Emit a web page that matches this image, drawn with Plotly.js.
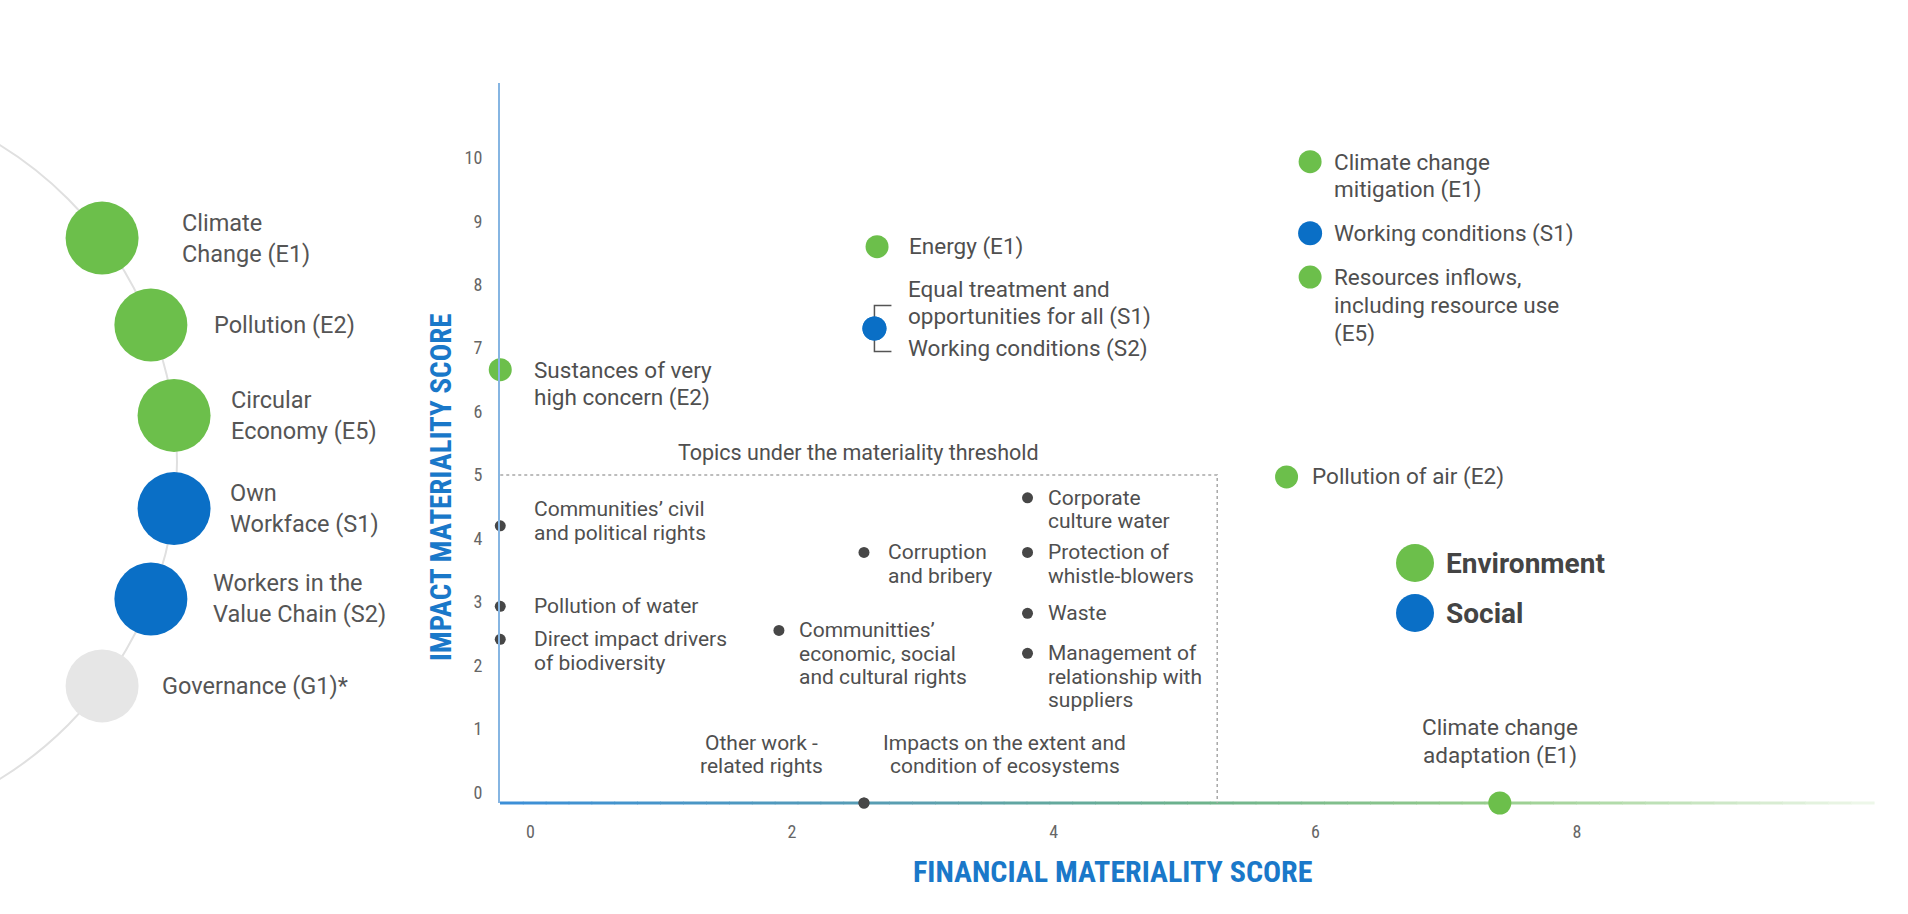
<!DOCTYPE html>
<html><head><meta charset="utf-8">
<script src="https://cdn.plot.ly/plotly-3.0.1.min.js"></script>
<style>html,body{margin:0;padding:0;background:#fff;}#chart{width:1908px;height:914px;}</style>
</head><body><div id="chart"></div>
<script>
// ---------------- data ----------------
const envLabels = ['Sustances of very<br>high concern (E2)', 'Energy (E1)', 'Climate change<br>mitigation (E1)',
  'Resources inflows,<br>including resource use<br>(E5)', 'Pollution of air (E2)', 'Climate change<br>adaptation (E1)'];
const envX = [-0.23, 2.65, 5.96, 5.96, 5.78, 7.41];
const envY = [6.66, 8.60, 9.94, 8.12, 4.97, -0.17];

const socLabels = ['Equal treatment and<br>opportunities for all (S1)', 'Working conditions (S2)', 'Working conditions (S1)'];
const socX = [2.63, 2.63, 5.96];
const socY = [7.31, 7.31, 8.81];

const topicLabels = ["Communities\u2019 civil<br>and political rights", 'Pollution of water', 'Direct impact drivers<br>of biodiversity',
  'Corruption<br>and bribery', "Communitties\u2019<br>economic, social<br>and cultural rights", 'Corporate<br>culture water',
  'Protection of<br>whistle-blowers', 'Waste', 'Management of<br>relationship with<br>suppliers',
  'Other work -<br>related rights', 'Impacts on the extent and<br>condition of ecosystems'];
const topicX = [-0.23, -0.23, -0.23, 2.55, 1.90, 3.80, 3.80, 3.80, 3.80, 2.55, 2.55];
const topicY = [4.20, 2.93, 2.41, 3.78, 2.55, 4.64, 3.78, 2.82, 2.19, -0.17, -0.17];

const thresholdX = 5.25;
const thresholdY = 5;
const thresholdLabel = 'Topics under the materiality threshold';

const xTickVals = [0, 2, 4, 6, 8];
const yTickVals = [0, 1, 2, 3, 4, 5, 6, 7, 8, 9, 10];

const pillarLabels = ['Climate<br>Change (E1)', 'Pollution (E2)', 'Circular<br>Economy (E5)', 'Own<br>Workface (S1)',
  'Workers in the<br>Value Chain (S2)', 'Governance (G1)*'];
const pillarGroups = ['E', 'E', 'E', 'S', 'S', 'G'];

const legendLabels = ['Environment', 'Social'];
const legendGroups = ['E', 'S'];

const xTitle = 'FINANCIAL MATERIALITY SCORE';
const yTitle = 'IMPACT MATERIALITY SCORE';

// ---------------- style / layout ----------------
const W = 1908, H = 914;
const GREEN = '#6cbf4b', BLUE = '#0a6fc6', DOT = '#474747', GOV = '#e6e6e6';
const groupColor = {E: GREEN, S: BLUE, G: GOV};
const TXT = '#4f4f4f';
const COND = '"Roboto Condensed", "Liberation Sans Narrow", "Arial Narrow", "DejaVu Sans Condensed", Roboto, sans-serif';
const ROBOTO = 'Roboto, "Noto Sans", sans-serif';
const FS_MAIN = 22.5, LS_MAIN = 28;   // coloured topics
const FS_SUB = 21, LS_SUB = 23.5;     // topics under threshold

const px = v => v / W;
const py = v => 1 - v / H;

// plot box in pixels
const plotL = 500, plotR = 1874, plotB = 803, plotT = 83;

// label placement (pixel offsets): [xshift, yshift, xanchor, mode]
//  mode 'top'  : first line level with the point (+dy)
//  mode 'mid'  : block centred on the point (+dy)
//  mode 'above': last line centred dy px above the point
const envPlace = [[32, 0, 'left', 'top'], [30, 0, 'left', 'mid'], [22, 0, 'left', 'top'], [22, 0, 'left', 'top'],
  [23, 0, 'left', 'mid'], [0, 48, 'center', 'above']];
const socPlace = [[32, 26, 'left', 'mid'], [32, -20, 'left', 'mid'], [22, 0, 'left', 'mid']];
const topicPlace = [[32, 5, 'left', 'mid'], [32, 0, 'left', 'mid'], [32, 0, 'left', 'top'], [22, 0, 'left', 'top'],
  [18, 0, 'left', 'top'], [18, 0, 'left', 'top'], [18, 0, 'left', 'top'], [18, 0, 'left', 'mid'], [18, 0, 'left', 'top'],
  [-102, 37, 'center', 'above'], [141, 37, 'center', 'above']];

const annotations = [];
function addLabels(labels, xs, ys, place, fs, ls) {
  labels.forEach((t, i) => {
    const [dx, dy, xa, mode] = place[i];
    const lines = t.split('<br>');
    const n = lines.length;
    lines.forEach((ln, j) => {
      let sh;
      if (mode === 'top') sh = dy - j * ls;
      else if (mode === 'mid') sh = dy + ((n - 1) / 2 - j) * ls;
      else sh = dy + (n - 1 - j) * ls;
      annotations.push({x: xs[i], y: ys[i], xref: 'x', yref: 'y', text: ln, showarrow: false,
        xshift: dx, yshift: sh, xanchor: xa, yanchor: 'middle',
        font: {family: ROBOTO, size: fs, color: TXT}});
    });
  });
}
addLabels(envLabels, envX, envY, envPlace, FS_MAIN, LS_MAIN);
addLabels(socLabels, socX, socY, socPlace, FS_MAIN, LS_MAIN);
addLabels(topicLabels, topicX, topicY, topicPlace, FS_SUB, LS_SUB);

annotations.push({x: (-0.23 + thresholdX) / 2, y: thresholdY, xref: 'x', yref: 'y', text: thresholdLabel,
  showarrow: false, yanchor: 'bottom', yshift: 8, font: {family: ROBOTO, size: 21.5, color: TXT}});

// axis titles
annotations.push({x: px(1112), y: py(891), xref: 'paper', yref: 'paper', text: '<b>' + xTitle + '</b>',
  showarrow: false, font: {family: COND, size: 30, color: '#1a78c9'}});
annotations.push({x: px(422), y: py(488), xref: 'paper', yref: 'paper', text: '<b>' + yTitle + '</b>',
  textangle: -90, showarrow: false, font: {family: COND, size: 29, color: '#1a78c9'}});

// left panel: pillars on an arc
const arcC = [-195, 462], arcR = 372;
const angles = [-37, -21.6, -7.2, 7.2, 21.6, 37];
const labelOff = [78, 61, 55, 54, 60, 58];
const pX = angles.map(a => arcC[0] + arcR * Math.cos(a * Math.PI / 180));
const pY = angles.map(a => arcC[1] + arcR * Math.sin(a * Math.PI / 180));
pillarLabels.forEach((t, i) => {
  annotations.push({x: pX[i], y: pY[i], xref: 'x2', yref: 'y2', text: t, showarrow: false,
    xanchor: 'left', yanchor: 'middle', align: 'left', xshift: labelOff[i],
    font: {family: ROBOTO, size: 23.5, color: '#555'}});
});

// legend
const legX = 1415, legY = [563, 613];
const shapes = [];
legendLabels.forEach((t, i) => {
  shapes.push({type: 'circle', xref: 'paper', yref: 'paper', xsizemode: 'pixel', ysizemode: 'pixel',
    xanchor: px(legX), yanchor: py(legY[i]), x0: -19, x1: 19, y0: -19, y1: 19,
    fillcolor: groupColor[legendGroups[i]], line: {width: 0}});
  annotations.push({x: px(legX + 29), y: py(legY[i]), xref: 'paper', yref: 'paper', text: '<b>' + t + '</b>',
    showarrow: false, xanchor: 'left', yanchor: 'middle', font: {family: ROBOTO, size: 28, color: '#444'}});
});

// arc line
shapes.push({type: 'circle', xref: 'x2', yref: 'y2', x0: arcC[0] - arcR, x1: arcC[0] + arcR,
  y0: arcC[1] - arcR, y1: arcC[1] + arcR, line: {color: '#e0e0e0', width: 2}, layer: 'below'});

// threshold box (dotted)
shapes.push({type: 'path', xref: 'x', yref: 'y',
  path: `M ${-0.23} ${thresholdY} L ${thresholdX} ${thresholdY} L ${thresholdX} ${-0.17}`,
  line: {color: '#a8a8a8', width: 1.5, dash: 'dot'}, layer: 'below'});

// bracket for shared S1/S2 point
shapes.push({type: 'path', xref: 'x', yref: 'y', xsizemode: 'pixel', ysizemode: 'pixel',
  xanchor: socX[0], yanchor: socY[0], path: 'M 17 23 L 0 23 L 0 -23 L 17 -23',
  line: {color: '#555', width: 1.5}, layer: 'below'});

// gradient x axis line
const stops = [[0, [59, 143, 216]], [0.3, [90, 158, 176]], [0.5, [108, 178, 140]], [0.72, [150, 205, 140]], [1, [240, 248, 236]]];
function col(t) {
  for (let k = 1; k < stops.length; k++) {
    if (t <= stops[k][0]) {
      const a = stops[k - 1], b = stops[k], f = (t - a[0]) / (b[0] - a[0]);
      const c = a[1].map((v, j) => Math.round(v + (b[1][j] - v) * f));
      return `rgb(${c[0]},${c[1]},${c[2]})`;
    }
  }
  return 'rgb(240,248,236)';
}
const NSEG = 60;
for (let k = 0; k < NSEG; k++) {
  const a = plotL + (plotR - plotL) * k / NSEG, b = plotL + (plotR - plotL) * (k + 1) / NSEG + 0.6;
  shapes.push({type: 'line', xref: 'paper', yref: 'paper', x0: px(a), x1: px(b), y0: py(plotB), y1: py(plotB),
    line: {color: col((k + 0.5) / NSEG), width: 3}, layer: 'below'});
}

const traces = [
  {type: 'scatter', mode: 'markers', x: pX, y: pY, xaxis: 'x2', yaxis: 'y2', hoverinfo: 'skip',
    text: pillarLabels,
    marker: {size: 73, color: pillarGroups.map(g => groupColor[g]), line: {width: 0}}, showlegend: false},
  {type: 'scatter', mode: 'markers', x: topicX, y: topicY, text: topicLabels, cliponaxis: false,
    marker: {size: 11, color: DOT}, showlegend: false},
  {type: 'scatter', mode: 'markers', x: envX, y: envY, text: envLabels, cliponaxis: false, name: 'Environment',
    marker: {size: 23, color: GREEN}, showlegend: false},
  {type: 'scatter', mode: 'markers', x: socX, y: socY, text: socLabels, cliponaxis: false, name: 'Social',
    marker: {size: 24, color: BLUE}, showlegend: false}
];

const layout = {
  width: W, height: H, margin: {l: 0, r: 0, t: 0, b: 0}, paper_bgcolor: '#fff', plot_bgcolor: 'rgba(0,0,0,0)',
  showlegend: false, hovermode: false,
  xaxis: {domain: [px(plotL), px(plotR)], range: [-0.232, 10.27], showgrid: false, zeroline: false, showline: false,
    tickvals: xTickVals, ticks: '', ticklabelstandoff: 16, fixedrange: true,
    tickfont: {family: COND, size: 18, color: '#666'}},
  yaxis: {domain: [py(plotB), py(plotT)], range: [-0.17, 11.18], showgrid: false, zeroline: false,
    showline: true, linecolor: '#86b5e2', linewidth: 2, tickvals: yTickVals, ticks: '', ticklabelstandoff: 12,
    fixedrange: true, tickfont: {family: COND, size: 18, color: '#666'}},
  xaxis2: {domain: [0, px(496)], range: [0, 496], visible: false, fixedrange: true, anchor: 'y2'},
  yaxis2: {domain: [0, 1], range: [914, 0], visible: false, fixedrange: true, anchor: 'x2'},
  shapes: shapes, annotations: annotations,
  font: {family: ROBOTO}
};

Plotly.newPlot('chart', traces, layout, {displayModeBar: false, staticPlot: true});
</script>
</body></html>
